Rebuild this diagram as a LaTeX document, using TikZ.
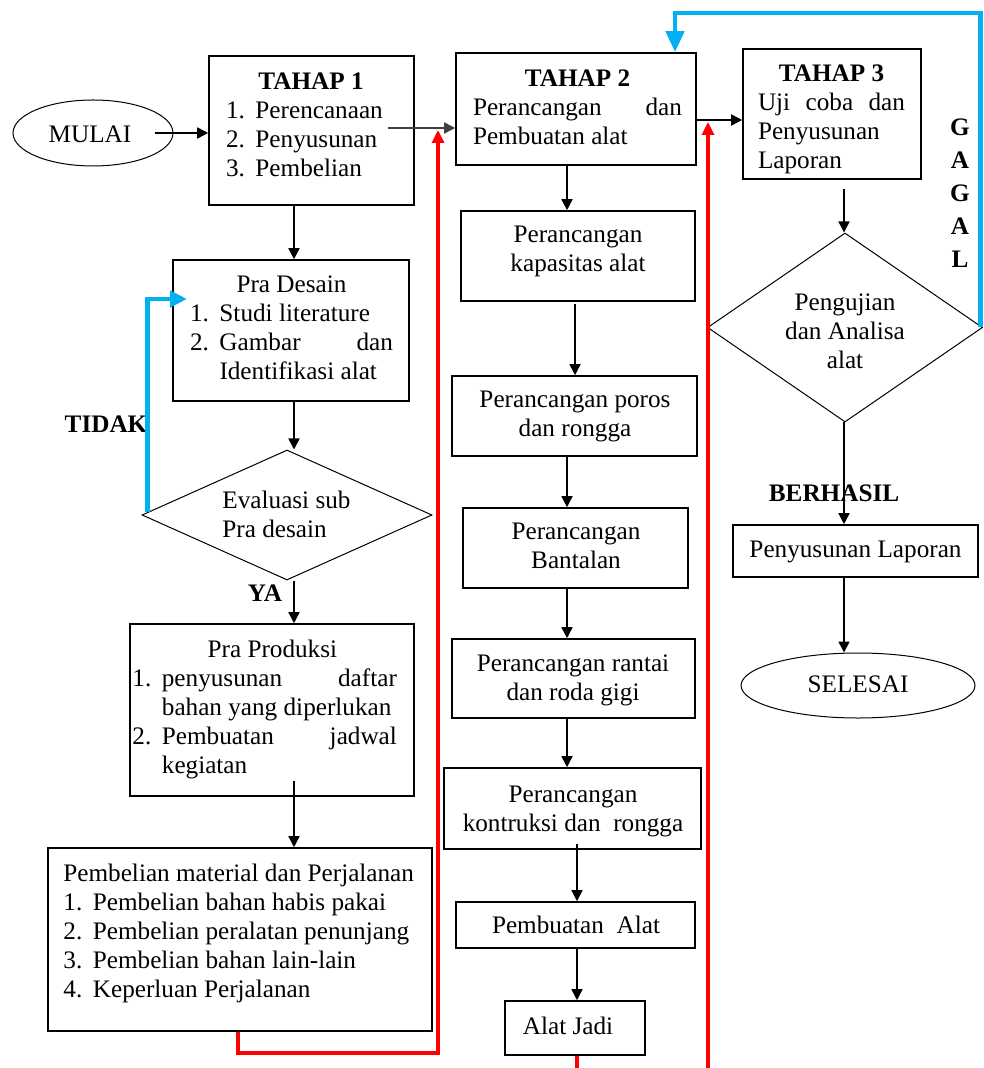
\documentclass[tikz,border=0pt]{standalone}
\usepackage{fontspec}
\setmainfont{Liberation Serif}
\usetikzlibrary{arrows.meta,shapes.geometric,calc}
\definecolor{cblue}{RGB}{0,176,240}
\definecolor{cred}{RGB}{255,0,0}
\newcommand\fs{\fontsize{12.6pt}{14.5pt}\selectfont}
\newcommand\SR{\strut}
\newcommand\nb[1]{\makebox[14.75pt][l]{#1}}
\begin{document}
\begin{tikzpicture}[x=0.5pt,y=-0.5pt, font=\fs,
  box/.style={draw, line width=0.8pt, rectangle, inner sep=0pt},
  txt/.style={inner sep=0pt, align=center, yshift=-1.75pt},
  ltxt/.style={inner sep=0pt, align=left, yshift=-1.75pt},
  lbl/.style={inner sep=0pt, font=\fs\bfseries, yshift=-1.75pt},
  arr/.style={line width=0.8pt, -{Triangle[length=5.5pt,width=5.5pt]}},
  redln/.style={cred, line width=1.6pt},
  redarr/.style={redln, -{Triangle[length=6.5pt,width=6pt]}},
  bluearr/.style={cblue, line width=2.3pt, -{Triangle[length=8.5pt,width=8pt]}},
  bluetop/.style={cblue, line width=2.3pt, -{Triangle[length=10.5pt,width=9pt]}},
  term/.style={draw, ellipse, line width=0.5pt, inner sep=0pt},
  dec/.style={draw, diamond, line width=0.5pt, inner sep=0pt}]
\path[use as bounding box, fill=white] (0,0) rectangle (983,1068);

% ---------- column 1
\node[term, minimum width=80pt, minimum height=33pt] (mulai) at (93,133) {};
\node[txt] (mulaiT) at (90,133) {\SR MULAI};

\node[box, minimum width=102.5pt, minimum height=74.5pt] (t1) at (311.5,130.5) {};
\node[ltxt] (t1T) at (311,123.5) {\SR\makebox[85pt]{\bfseries TAHAP 1}\\ \SR\nb{1.}Perencanaan\\ \SR\nb{2.}Penyusunan\\ \SR\nb{3.}Pembelian};

\node[box, minimum width=118pt, minimum height=70.5pt] (pradesain) at (291,330.5) {};
\node[ltxt] (pradesainT) at (291.5,326.5) {\SR\makebox[101.5pt]{Pra Desain}\\ \SR\nb{1.}Studi literature\\ \SR\nb{2.}\makebox[86.75pt][s]{Gambar\hfill dan}\\ \SR\hspace*{14.75pt}Identifikasi alat};

\node[dec, minimum width=145pt, minimum height=65pt] (ev) at (287,515) {};
\node[ltxt] (evT) at (286.5,514) {\SR Evaluasi sub\\ \SR Pra desain};

\node[lbl] (tidakT) at (106,423) {\SR TIDAK};
\node[lbl] (yaT) at (265,592) {\SR YA};

\node[box, minimum width=142pt, minimum height=86pt] (praproduksi) at (272,710) {};
\node[ltxt, anchor=west] (praproduksiT) at (132,706) {\SR\makebox[132.5pt]{\hspace*{7.5pt}Pra Produksi}\\ \SR\nb{1.}\makebox[117.5pt][s]{penyusunan\hfill daftar}\\ \SR\hspace*{14.75pt}bahan yang diperlukan\\ \SR\nb{2.}\makebox[117.5pt][s]{Pembuatan\hfill jadwal}\\ \SR\hspace*{14.75pt}kegiatan};

\node[box, minimum width=192pt, minimum height=91.5pt] (pembelian) at (240,939.5) {};
\node[ltxt, anchor=west] (pembelianT) at (63,930) {\SR Pembelian material dan Perjalanan\\ \SR\nb{1.}Pembelian bahan habis pakai\\ \SR\nb{2.}Pembelian peralatan penunjang\\ \SR\nb{3.}Pembelian bahan lain-lain\\ \SR\nb{4.}Keperluan Perjalanan};

% ---------- column 2
\node[box, minimum width=120pt, minimum height=56pt] (t2) at (576,109) {};
\node[ltxt] (t2T) at (577.5,106) {\SR\makebox[104.5pt]{\bfseries TAHAP 2}\\ \SR\makebox[104.5pt][s]{Perancangan\hfill dan}\\ \SR Pembuatan alat};

\node[box, minimum width=117pt, minimum height=45pt] (kap) at (578,256) {};
\node[txt] (kapT) at (578,248) {\SR Perancangan\\ \SR kapasitas alat};
\node[box, minimum width=122.5pt, minimum height=40pt] (poros) at (574.5,416) {};
\node[txt] (porosT) at (575,412.5) {\SR Perancangan poros\\ \SR dan rongga};
\node[box, minimum width=112.5pt, minimum height=40pt] (bantalan) at (575.5,548) {};
\node[txt] (bantalanT) at (576,545) {\SR Perancangan\\ \SR Bantalan};
\node[box, minimum width=121.5pt, minimum height=39.5pt] (rantai) at (573.5,678.5) {};
\node[txt] (rantaiT) at (573,677) {\SR Perancangan rantai\\ \SR dan roda gigi};
\node[box, minimum width=128.5pt, minimum height=40.5pt] (kontruksi) at (572.5,808.5) {};
\node[txt] (kontruksiT) at (573,807.5) {\SR Perancangan\\ \SR kontruksi dan\ \ rongga};
\node[box, minimum width=119.5pt, minimum height=23pt] (pembuatan) at (575.5,925) {};
\node[txt] (pembuatanT) at (576,924) {\SR Pembuatan\ \ Alat};
\node[box, minimum width=70pt, minimum height=27pt] (alatjadi) at (575,1028) {};
\node[txt] (alatjadiT) at (568,1025) {\SR Alat Jadi};

% ---------- column 3
\node[box, minimum width=89pt, minimum height=65pt] (t3) at (832,114) {};
\node[ltxt] (t3T) at (831.5,115.5) {\SR\makebox[73.5pt]{\bfseries TAHAP 3}\\ \SR\makebox[73.5pt][s]{Uji\hfill coba\hfill dan}\\ \SR Penyusunan\\ \SR Laporan};

\node[inner sep=0pt, align=center, yshift=-1.75pt, font=\fontsize{12.6pt}{16.5pt}\selectfont\bfseries] (gagalT) at (960,191.5) {\SR G\\ \SR A\\ \SR G\\ \SR A\\ \SR L};

\node[dec, minimum width=137.5pt, minimum height=94.5pt] (pengujian) at (845,327.5) {};
\node[txt] (pengujianT) at (845,330) {\SR Pengujian\\ \SR dan Analisa\\ \SR alat};
\node[lbl] (berhasilT) at (834,492) {\SR BERHASIL};
\node[box, minimum width=122.5pt, minimum height=26pt] (penyusunan) at (855.5,551) {};
\node[txt] (penyusunanT) at (855.5,548) {\SR Penyusunan Laporan};
\node[term, minimum width=117pt, minimum height=32.5pt] (selesai) at (858,685.5) {};
\node[txt] (selesaiT) at (858,683) {\SR SELESAI};

% ---------- coordinates
\coordinate (c294) at (294,0);
\coordinate (c567) at (567,0);
\coordinate (c575) at (575,0);
\coordinate (c577) at (577,0);
\coordinate (c844) at (844,0);
\coordinate (a12) at (388,128);
\coordinate (j1) at (438,128);
\coordinate (j2) at (708,120);
\coordinate (rb1) at (238,1053);
\coordinate (rb2) at (438,1053);
\coordinate (bot1) at (577,1074);
\coordinate (bot2) at (708,1074);
\coordinate (gtop2) at (675,13);
\coordinate (tidakIn) at (187,299);

% ---------- black connectors
\draw[arr] ([xshift=-9.5pt]mulai.east) -- (mulai.east -| t1.west);
\draw[arr, black!75] (a12) -- (a12 -| t2.west);
\draw[arr] (t2.east |- j2) -- (t3.west |- j2);
\draw[arr] (t1.south -| c294) -- (pradesain.north -| c294);
\draw[arr] (pradesain.south -| c294) -- (ev.north -| c294);
\draw[arr] (ev.south -| c294) -- (praproduksi.north -| c294);
\draw[arr] ($(praproduksi.south -| c294)+(0,-16)$) -- (pembelian.north -| c294);
\draw[arr] (t2.south -| c567) -- (kap.north -| c567);
\draw[arr] ($(kap.south -| c575)+(0,2)$) -- (poros.north -| c575);
\draw[arr] (poros.south -| c567) -- (bantalan.north -| c567);
\draw[arr] (bantalan.south -| c567) -- (rantai.north -| c567);
\draw[arr] (rantai.south -| c567) -- (kontruksi.north -| c567);
\draw[arr] ($(kontruksi.south -| c577)+(0,-6)$) -- (pembuatan.north -| c577);
\draw[arr] (pembuatan.south -| c577) -- (alatjadi.north -| c577);
\draw[arr] ($(t3.south -| c844)+(0,9)$) -- (pengujian.north -| c844);
\draw[arr] (pengujian.south -| c844) -- (penyusunan.north -| c844);
\draw[arr] (penyusunan.south -| c844) -- (selesai.north -| c844);

% ---------- red connectors
\draw[redarr] (pembelian.south -| rb1) -- (rb1) -- (rb2) -- ($(j1)+(0,2)$);
\draw[redln] (alatjadi.south -| c577) -- (bot1);
\draw[redarr] (bot2) -- ($(j2)+(0,2)$);

% ---------- blue connectors
\draw[bluetop] ([xshift=-1.2pt]pengujian.east) |- (gtop2) -- (gtop2 |- t2.north);
\draw[bluearr] ($(ev.west)+(6,-3)$) |- (tidakIn);
\end{tikzpicture}
\end{document}
